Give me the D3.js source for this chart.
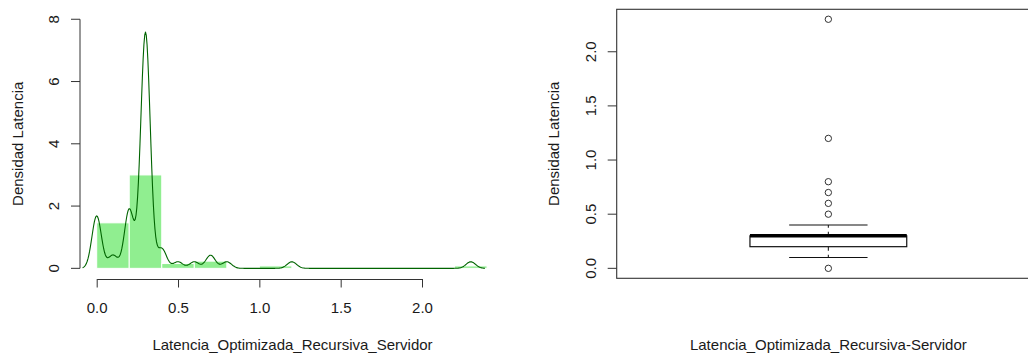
<!DOCTYPE html>
<html>
<head>
<meta charset="utf-8">
<script src="https://cdn.jsdelivr.net/npm/d3@7"></script>
<style>
  html, body { margin: 0; padding: 0; background: #fff; }
  svg { display: block; font-family: "Liberation Sans", Arial, sans-serif; }
</style>
</head>
<body>
<svg id="chart" width="1028" height="353"></svg>
<script>
// Observed latencies (s) and how many requests took each one
const latencyValues = [0.0, 0.1, 0.2, 0.3, 0.4, 0.5, 0.6, 0.7, 0.8, 1.2, 2.3];
const latencyCounts = [8, 2, 9, 36, 3, 1, 1, 2, 1, 1, 1];

// Histogram breaks and axis ticks
const histBreaks = [0, 0.2, 0.4, 0.6, 0.8, 1.0, 1.2, 1.4, 1.6, 1.8, 2.0, 2.2, 2.4];
const histXTicks = [0, 0.5, 1, 1.5, 2];
const histYTicks = [0, 2, 4, 6, 8];
const boxYTicks = [0, 0.5, 1, 1.5, 2];

const histXTitle = "Latencia_Optimizada_Recursiva_Servidor";
const boxXTitle = "Latencia_Optimizada_Recursiva-Servidor";
const yTitle = "Densidad Latencia";

// ---- sample & statistics ----
const sample = latencyValues.flatMap((v, i) => d3.range(latencyCounts[i]).map(() => v));
sample.sort(d3.ascending);
const n = sample.length;

// Histogram on density scale, right-closed bins, lowest bin includes its left edge
const eps = 1e-9;
const bins = histBreaks.slice(0, -1).map((lo, i) => {
  const hi = histBreaks[i + 1];
  const count = sample.filter(v => (v > lo + eps || (i === 0 && v >= lo - eps)) && v <= hi + eps).length;
  return { lo, hi, density: count / (n * (hi - lo)) };
});

// Gaussian kernel density, rule-of-thumb bandwidth
const q1 = d3.quantile(sample, 0.25);
const med = d3.quantile(sample, 0.5);
const q3 = d3.quantile(sample, 0.75);
const iqr = q3 - q1;
const bw = 0.9 * Math.min(d3.deviation(sample), iqr / 1.34) * Math.pow(n, -0.2);
const gridFrom = d3.min(sample) - 3 * bw;
const gridTo = d3.max(sample) + 3 * bw;
const gridN = 512;
const kde = d3.range(gridN).map(i => {
  const x = gridFrom + (gridTo - gridFrom) * i / (gridN - 1);
  let s = 0;
  for (const v of sample) {
    const u = (x - v) / bw;
    s += Math.exp(-0.5 * u * u);
  }
  return [x, s / (n * bw * Math.sqrt(2 * Math.PI))];
});

// Box-plot statistics
const loFence = q1 - 1.5 * iqr - eps;
const hiFence = q3 + 1.5 * iqr + eps;
const whiskLo = d3.min(sample.filter(v => v >= loFence));
const whiskHi = d3.max(sample.filter(v => v <= hiFence));
const outliers = Array.from(new Set(sample.filter(v => v < loFence || v > hiFence)));

// ---- layout ----
const svg = d3.select("#chart");
const plotTop = 9.3, plotBottom = 278.3;
const textColor = "#1a1a1a";
const axisColor = "#333";
const fontSize = 15;

// ===== Left panel: histogram + density =====
const xH = d3.scaleLinear().domain([0, 2]).range([96.7, 422]);
const yH = d3.scaleLinear().domain([-0.32, 8.32]).range([plotBottom, plotTop]);
const leftEdge = 80, leftRight = 505;

const gH = svg.append("g");

gH.selectAll("rect.bar")
  .data(bins)
  .join("rect")
  .attr("class", "bar")
  .attr("x", d => xH(d.lo))
  .attr("width", d => xH(d.hi) - xH(d.lo))
  .attr("y", d => yH(d.density))
  .attr("height", d => yH(0) - yH(d.density))
  .attr("fill", "#90EE90")
  .attr("stroke", "#fff")
  .attr("stroke-width", 1);

gH.append("path")
  .datum(kde)
  .attr("fill", "none")
  .attr("stroke", "#006400")
  .attr("stroke-width", 1.1)
  .attr("stroke-linejoin", "round")
  .attr("d", d3.line().x(d => xH(d[0])).y(d => yH(d[1])));

// x axis
const xAxisY = 279;
const xAxisG = gH.append("g")
  .attr("transform", `translate(0,${xAxisY})`)
  .call(d3.axisBottom(xH).tickValues(histXTicks).tickSizeInner(8.5).tickSizeOuter(0)
    .tickPadding(0).tickFormat(d3.format(".1f")));
xAxisG.select(".domain").attr("stroke", axisColor);
xAxisG.selectAll(".tick line").attr("stroke", axisColor);
xAxisG.selectAll(".tick text")
  .attr("y", 34).attr("dy", null)
  .attr("font-size", fontSize).attr("font-family", null)
  .attr("fill", textColor);

// y axis (labels parallel to the axis)
const yAxisG = gH.append("g");
yAxisG.append("line")
  .attr("x1", leftEdge).attr("x2", leftEdge)
  .attr("y1", yH(histYTicks[0])).attr("y2", yH(histYTicks[histYTicks.length - 1]))
  .attr("stroke", axisColor);
yAxisG.selectAll("line.tick")
  .data(histYTicks)
  .join("line")
  .attr("class", "tick")
  .attr("x1", leftEdge).attr("x2", leftEdge - 9)
  .attr("y1", d => yH(d)).attr("y2", d => yH(d))
  .attr("stroke", axisColor);
yAxisG.selectAll("text")
  .data(histYTicks)
  .join("text")
  .attr("transform", d => `translate(58.5,${yH(d)}) rotate(-90)`)
  .attr("text-anchor", "middle")
  .attr("font-size", fontSize)
  .attr("fill", textColor)
  .text(d => d3.format("d")(d));

svg.append("text")
  .attr("x", (leftEdge + leftRight) / 2).attr("y", 349.5)
  .attr("text-anchor", "middle").attr("font-size", fontSize).attr("fill", textColor)
  .text(histXTitle);
svg.append("text")
  .attr("transform", `translate(23,${(plotTop + plotBottom) / 2}) rotate(-90)`)
  .attr("text-anchor", "middle").attr("font-size", fontSize).attr("fill", textColor)
  .text(yTitle);

// ===== Right panel: box plot =====
const xB = d3.scaleLinear().domain([0.46, 1.54]).range([616.7, 1040]);
const yB = d3.scaleLinear().domain([-0.092, 2.392]).range([plotBottom, plotTop]);
const gB = svg.append("g");

// frame
gB.append("rect")
  .attr("x", xB(0.46)).attr("y", plotTop)
  .attr("width", xB(1.54) - xB(0.46)).attr("height", plotBottom - plotTop)
  .attr("fill", "none").attr("stroke", axisColor).attr("stroke-width", 1.1);

// y ticks and labels
gB.selectAll("line.tick")
  .data(boxYTicks)
  .join("line")
  .attr("class", "tick")
  .attr("x1", xB(0.46)).attr("x2", xB(0.46) - 9)
  .attr("y1", d => yB(d)).attr("y2", d => yB(d))
  .attr("stroke", axisColor);
gB.selectAll("text.ticklab")
  .data(boxYTicks)
  .join("text")
  .attr("class", "ticklab")
  .attr("transform", d => `translate(596,${yB(d)}) rotate(-90)`)
  .attr("text-anchor", "middle")
  .attr("font-size", fontSize)
  .attr("fill", textColor)
  .text(d => d3.format(".1f")(d));

// whiskers (dashed) and staples
const cx = xB(1);
gB.selectAll("line.whisker")
  .data([[q3, whiskHi], [q1, whiskLo]])
  .join("line")
  .attr("class", "whisker")
  .attr("x1", cx).attr("x2", cx)
  .attr("y1", d => yB(d[0])).attr("y2", d => yB(d[1]))
  .attr("stroke", "#222").attr("stroke-width", 1.1)
  .attr("stroke-dasharray", "4,4");
gB.selectAll("line.staple")
  .data([whiskHi, whiskLo])
  .join("line")
  .attr("class", "staple")
  .attr("x1", xB(0.9)).attr("x2", xB(1.1))
  .attr("y1", d => yB(d)).attr("y2", d => yB(d))
  .attr("stroke", "#111").attr("stroke-width", 1.2);

// box and median
gB.append("rect")
  .attr("x", xB(0.8)).attr("width", xB(1.2) - xB(0.8))
  .attr("y", yB(q3)).attr("height", yB(q1) - yB(q3))
  .attr("fill", "#fff").attr("stroke", "#111").attr("stroke-width", 1.2);
gB.append("line")
  .attr("x1", xB(0.8)).attr("x2", xB(1.2))
  .attr("y1", yB(med)).attr("y2", yB(med))
  .attr("stroke", "#000").attr("stroke-width", 3.5);

// outliers
gB.selectAll("circle")
  .data(outliers)
  .join("circle")
  .attr("cx", cx).attr("cy", d => yB(d)).attr("r", 3.2)
  .attr("fill", "none").attr("stroke", "#333").attr("stroke-width", 1);

svg.append("text")
  .attr("x", cx).attr("y", 349.5)
  .attr("text-anchor", "middle").attr("font-size", fontSize).attr("fill", textColor)
  .text(boxXTitle);
svg.append("text")
  .attr("transform", `translate(559.3,${(plotTop + plotBottom) / 2}) rotate(-90)`)
  .attr("text-anchor", "middle").attr("font-size", fontSize).attr("fill", textColor)
  .text(yTitle);
</script>
</body>
</html>
